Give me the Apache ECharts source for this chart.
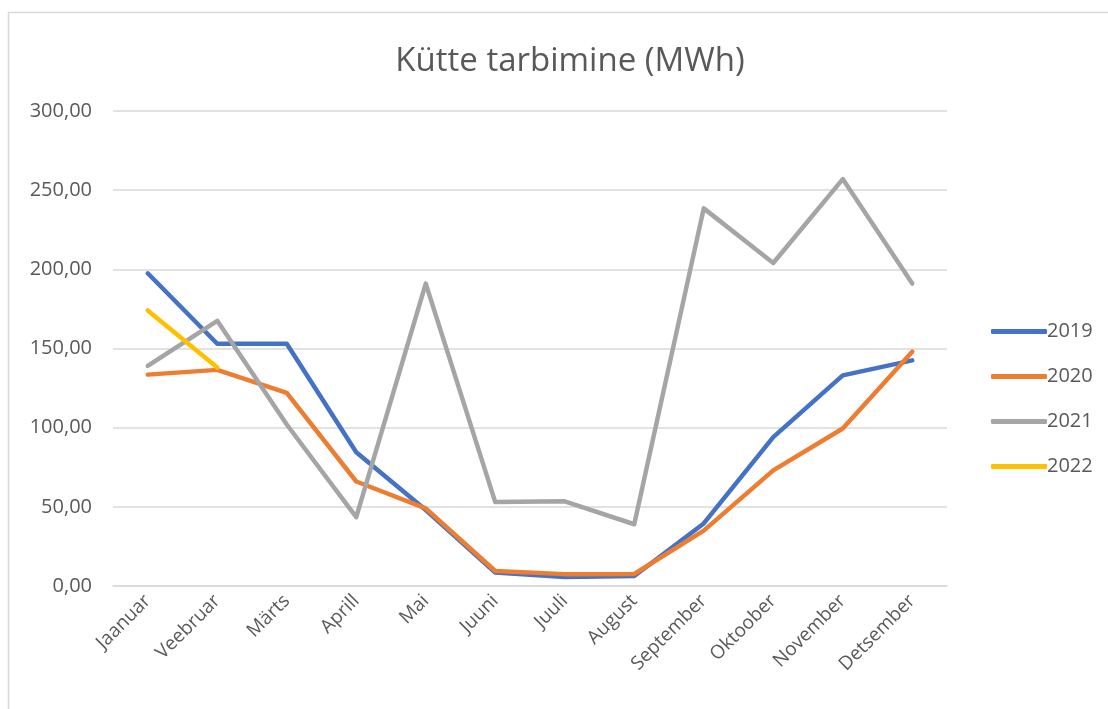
<!DOCTYPE html>
<html>
<head>
<meta charset="utf-8">
<script src="https://cdn.jsdelivr.net/npm/echarts@6/dist/echarts.min.js"></script>
<style>
  html, body { margin: 0; padding: 0; background: #fff; }
  #chart { width: 1108px; height: 709px; }
</style>
</head>
<body>
<div id="chart"></div>
<script>
// kuud
var months = ['Jaanuar', 'Veebruar', 'Märts', 'Aprill', 'Mai', 'Juuni', 'Juuli', 'August', 'September', 'Oktoober', 'November', 'Detsember'];
var years = ['2019', '2020', '2021', '2022'];
var data2019 = [197.5, 153, 153, 84.5, 48, 8.5, 5.7, 6.3, 39.5, 94, 133, 142.5];
var data2020 = [133.5, 136.5, 122, 66, 49, 9.5, 7.5, 7.6, 35, 73, 99.5, 148];
var data2021 = [139, 167.5, 102, 43.5, 191, 53, 53.5, 39, 238.5, 204, 257, 191];
var data2022 = [174, 138];
var colors = ['#4472C4', '#ED7D31', '#A5A5A5', '#FFC000'];

var font = '"Open Sans", "Liberation Sans", sans-serif';
var chart = echarts.init(document.getElementById('chart'));

function lineSeries(name, values, color) {
  return {
    name: name,
    type: 'line',
    data: values,
    symbol: 'none',
    lineStyle: { color: color, width: 4.5, cap: 'round', join: 'round' },
    itemStyle: { color: color },
    animation: false
  };
}

chart.setOption({
  textStyle: { fontFamily: font },
  title: {
    text: 'Kütte tarbimine (MWh)',
    left: 565,
    textAlign: 'center',
    top: 40,
    textStyle: { fontFamily: font, fontSize: 33, fontWeight: 'normal', color: '#595959' }
  },
  // raam
  graphic: [{
    type: 'rect',
    shape: { x: 8.5, y: 12.5, width: 1200, height: 800 },
    style: { fill: 'none', stroke: '#d9d9d9', lineWidth: 1.5 },
    silent: true
  }],
  legend: {
    orient: 'vertical',
    left: 986,
    top: 313,
    itemWidth: 56,
    itemHeight: 5,
    itemGap: 18,
    icon: 'roundRect',
    data: years.map(function (y, i) {
      return { name: y, itemStyle: { color: colors[i] } };
    }),
    textStyle: { fontFamily: font, fontSize: 20, lineHeight: 27, color: '#595959', padding: [0, 0, 0, -5] }
  },
  grid: {
    left: 113,
    right: 161,
    top: 111,
    bottom: 123,
    containLabel: false
  },
  xAxis: {
    type: 'category',
    data: months,
    boundaryGap: true,
    axisLine: { show: true, lineStyle: { color: '#d9d9d9', width: 1.5 } },
    axisTick: { show: false },
    axisLabel: {
      rotate: 45,
      interval: 0,
      margin: 12,
      fontFamily: font,
      fontSize: 19,
      color: '#595959'
    }
  },
  yAxis: {
    type: 'value',
    min: 0,
    max: 300,
    interval: 50,
    axisLine: { show: false },
    axisTick: { show: false },
    splitLine: { lineStyle: { color: '#d9d9d9', width: 1.5 } },
    axisLabel: {
      margin: 21,
      fontFamily: font,
      fontSize: 20,
      color: '#595959',
      formatter: function (v) { return v.toFixed(2).replace('.', ','); }
    }
  },
  series: [
    lineSeries('2019', data2019, colors[0]),
    lineSeries('2020', data2020, colors[1]),
    lineSeries('2021', data2021, colors[2]),
    lineSeries('2022', data2022, colors[3])
  ]
});
</script>
</body>
</html>
